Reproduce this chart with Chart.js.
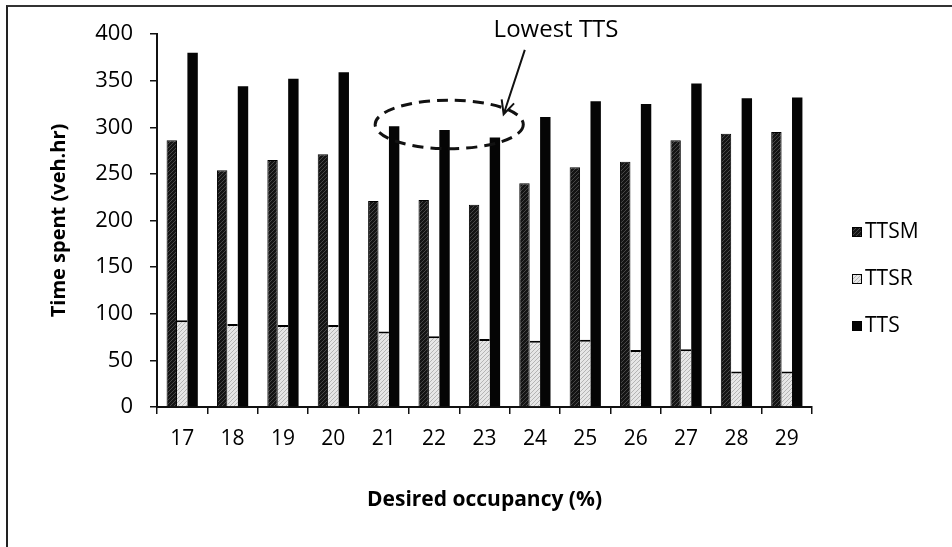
<!DOCTYPE html>
<html lang="en">
<head>
  <meta charset="UTF-8" />
  <title>Time spent by desired occupancy</title>
  <script src="https://cdn.jsdelivr.net/npm/chart.js"></script>
  <style>
    html, body { margin: 0; padding: 0; background: #fff; }
    #wrap { position: relative; width: 952px; height: 547px; overflow: hidden; }
    #frame {
      position: absolute; left: 6px; top: 5px; width: 960px; height: 560px;
      border-left: 2px solid #222; border-top: 2px solid #333; pointer-events: none;
    }
    canvas { position: absolute; left: 0; top: 0; }
  </style>
</head>
<body>
  <div id="wrap">
    <canvas id="ttsChart" width="952" height="547"></canvas>
    <div id="frame"></div>
  </div>

  <script>
    // Desired occupancy (%) and total time spent per component (veh.hr)
    const occupancy = ['17', '18', '19', '20', '21', '22', '23', '24', '25', '26', '27', '28', '29'];
    const ttsm = [286, 254, 265, 271, 221, 222, 217, 240, 257, 263, 286, 293, 295];
    const ttsr = [93, 89, 88, 88, 81, 76, 73, 71, 72, 61, 62, 38, 38];
    const tts = [380, 344, 352, 359, 301, 297, 289, 311, 328, 325, 347, 331, 332];
    const yTicks = [0, 50, 100, 150, 200, 250, 300, 350, 400];

    const FONT = "'Open Sans', sans-serif";
    Chart.defaults.font.family = FONT;
    Chart.defaults.color = '#000';

    // small diagonal hatch tiles used as bar fills
    function hatch(base, stripe) {
      const c = document.createElement('canvas');
      c.width = 4; c.height = 4;
      const g = c.getContext('2d');
      g.fillStyle = base;
      g.fillRect(0, 0, 4, 4);
      g.strokeStyle = stripe;
      g.lineWidth = 1;
      g.beginPath();
      g.moveTo(0, 4); g.lineTo(4, 0);
      g.moveTo(-1, 1); g.lineTo(1, -1);
      g.moveTo(3, 5); g.lineTo(5, 3);
      g.stroke();
      return g.createPattern(c, 'repeat');
    }
    const darkHatch = hatch('#141414', '#464646');
    const lightHatch = hatch('#e6e6e6', '#b4b4b4');

    // legend drawn as a vertical column to the right of the plot
    const sideLegend = {
      id: 'sideLegend',
      afterDraw(chart) {
        const ctx = chart.ctx;
        const left = chart.chartArea.right + 40;
        const midY = 279;
        const step = 47;
        const sets = chart.data.datasets;
        ctx.save();
        ctx.font = '21px ' + FONT;
        ctx.textBaseline = 'middle';
        sets.forEach((ds, i) => {
          const cy = midY + (i - (sets.length - 1) / 2) * step;
          ctx.fillStyle = ds.backgroundColor;
          ctx.fillRect(left, cy - 5, 10, 10);
          ctx.strokeStyle = '#000';
          ctx.lineWidth = 1;
          ctx.strokeRect(left + 0.5, cy - 4.5, 9, 9);
          ctx.fillStyle = '#000';
          ctx.fillText(ds.label, left + 13, cy);
        });
        ctx.restore();
      }
    };

    // dashed ring round the lowest totals, with an arrow and a note
    const lowestNote = {
      id: 'lowestNote',
      afterDatasetsDraw(chart) {
        const { ctx, scales: { x, y } } = chart;
        const cx = x.getPixelForValue(5.3);
        const cy = y.getPixelForValue(303);
        const rx = x.getPixelForValue(6.77) - cx;
        const ry = y.getPixelForValue(277) - cy;
        ctx.save();
        ctx.strokeStyle = '#111';
        ctx.lineWidth = 3;
        ctx.setLineDash([11, 7]);
        ctx.beginPath();
        ctx.ellipse(cx, cy, rx, ry, 0, 0, Math.PI * 2);
        ctx.stroke();

        const tx = x.getPixelForValue(6.8), ty = y.getPixelForValue(383);
        const hx = x.getPixelForValue(6.38), hy = y.getPixelForValue(314);
        const ang = Math.atan2(hy - ty, hx - tx);
        ctx.setLineDash([]);
        ctx.lineWidth = 2;
        ctx.beginPath();
        ctx.moveTo(tx, ty);
        ctx.lineTo(hx, hy);
        ctx.moveTo(hx - 15 * Math.cos(ang - 0.45), hy - 15 * Math.sin(ang - 0.45));
        ctx.lineTo(hx, hy);
        ctx.lineTo(hx - 15 * Math.cos(ang + 0.45), hy - 15 * Math.sin(ang + 0.45));
        ctx.stroke();

        ctx.fillStyle = '#000';
        ctx.font = '24px ' + FONT;
        ctx.textAlign = 'center';
        ctx.textBaseline = 'middle';
        ctx.fillText('Lowest TTS', x.getPixelForValue(7.42), y.getPixelForValue(404));
        ctx.restore();
      }
    };

    new Chart(document.getElementById('ttsChart'), {
      type: 'bar',
      data: {
        labels: occupancy,
        datasets: [
          { label: 'TTSM', data: ttsm, backgroundColor: darkHatch, borderColor: '#000', borderWidth: 1 },
          { label: 'TTSR', data: ttsr, backgroundColor: lightHatch, borderColor: '#000',
            borderWidth: { top: 2, left: 0, right: 0, bottom: 0 } },
          { label: 'TTS', data: tts, backgroundColor: '#050505', borderWidth: 0 }
        ]
      },
      options: {
        responsive: false,
        animation: false,
        devicePixelRatio: 1,
        categoryPercentage: 0.62,
        barPercentage: 1.0,
        layout: { padding: { top: 34, right: 140, bottom: 0, left: 0 } },
        plugins: { legend: { display: false }, tooltip: { enabled: false } },
        scales: {
          x: {
            afterFit: (s) => { s.height = 140; },
            grid: { offset: true, drawOnChartArea: false, tickLength: 7, color: '#111', lineWidth: 1.5 },
            border: { color: '#111', width: 2 },
            ticks: { font: { size: 21 }, padding: 12 },
            title: {
              display: true, text: 'Desired occupancy (%)',
              font: { size: 21, weight: 'bold' }, padding: { top: 0, bottom: 34 }
            }
          },
          y: {
            min: 0, max: 400,
            afterFit: (s) => { s.width = 157; },
            afterBuildTicks: (s) => { s.ticks = yTicks.map(v => ({ value: v })); },
            grid: { drawOnChartArea: false, tickLength: 7, color: '#111', lineWidth: 1.5 },
            border: { color: '#111', width: 2 },
            ticks: { font: { size: 22 }, padding: 17 },
            title: {
              display: true, text: 'Time spent (veh.hr)',
              font: { size: 20, weight: 'bold' }, padding: { top: 47, bottom: 0 }
            }
          }
        }
      },
      plugins: [sideLegend, lowestNote]
    });
  </script>
</body>
</html>
